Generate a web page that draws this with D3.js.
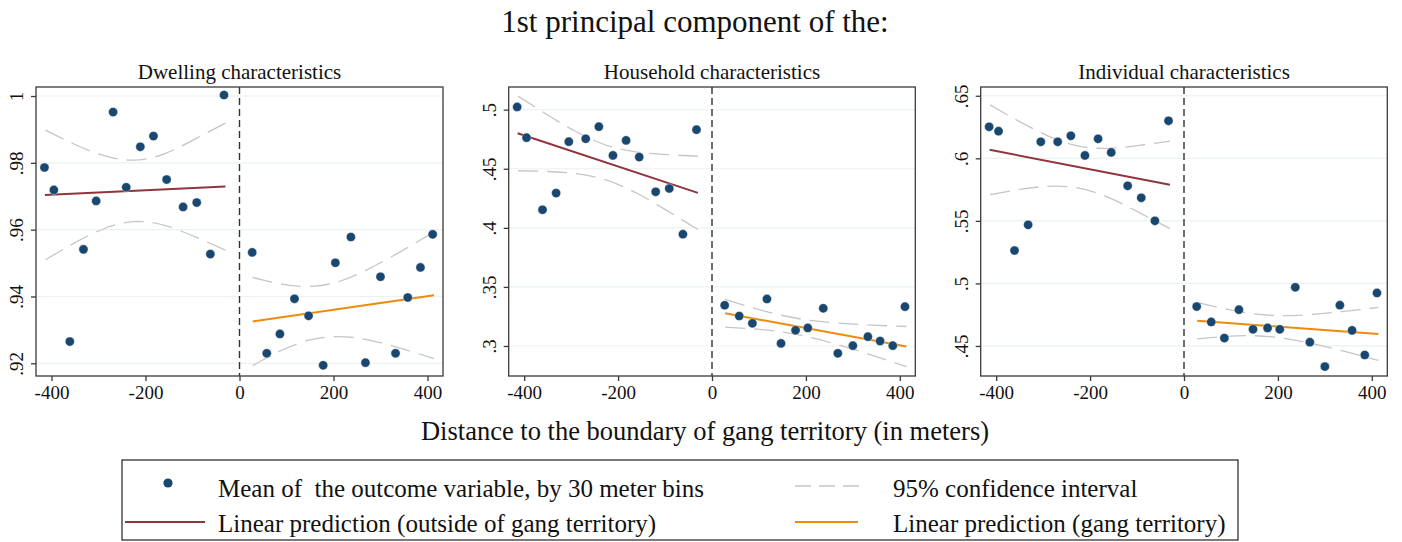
<!DOCTYPE html>
<html><head><meta charset="utf-8">
<script src="https://cdn.jsdelivr.net/npm/d3@7"></script>
<style>
body{margin:0;background:#fff}
svg text{font-family:"Liberation Serif","DejaVu Serif",serif;fill:#111;white-space:pre}
</style>
</head><body><svg id="c" width="1402" height="542"></svg>
<script>
// ---------------- data ----------------
const mainTitle = "1st principal component of the:";
const xAxisTitle = "Distance to the boundary of gang territory (in meters)";
const panelTitles = ["Dwelling characteristics", "Household characteristics", "Individual characteristics"];

// bin centres (mean distance in each 30 m bin)
const binX = [-415, -395, -361, -332, -305, -269, -241, -211, -183, -155, -120, -91, -62, -33,
              27, 58, 86, 117, 147, 178, 204, 237, 268, 300, 332, 358, 385, 411];

const dwellingY = [.9786, .9719, .9265, .9541, .9686, .9952, .9727, .9848, .9880, .9750, .9668, .9681, .9527, 1.0003,
                   .9532, .9230, .9288, .9393, .9342, .9194, .9501, .9578, .9202, .9459, .9230, .9397, .9487, .9586];
const householdY = [.5023, .4763, .4153, .4294, .4729, .4754, .4856, .4613, .4740, .4599, .4305, .4333, .3946, .4831,
                    .3345, .3254, .3192, .3398, .3022, .3133, .3153, .3319, .2938, .3003, .3079, .3042, .3003, .3333];
const individualY = [.6252, .6217, .5263, .5468, .6132, .6132, .6180, .6023, .6156, .6047, .5780, .5684, .5500, .6300,
                     .4815, .4692, .4563, .4790, .4633, .4644, .4633, .4969, .4530, .4335, .4826, .4624, .4428, .4924];

// linear predictions (end points)
const fitOutX = [-414, -30];
const fitInX = [28, 414];
const dwellingFitOut = [.9704, .9729];
const dwellingFitIn = [.9325, .9404];
const householdFitOut = [.4800, .4296];
const householdFitIn = [.3277, .2995];
const individualFitOut = [.6068, .5788];
const individualFitIn = [.4702, .4596];

// 95% confidence interval bands
const ciOutX = [-413, -350, -290, -226, -160, -95, -30];
const ciInX = [28, 90, 150, 210, 270, 340, 414];
const dwellingCiOutUp = [.9898, .9855, .9822, .9808, .9827, .9871, .9919];
const dwellingCiOutLo = [.9510, .9561, .9602, .9624, .9613, .9579, .9539];
const dwellingCiInUp = [.9457, .9437, .9430, .9444, .9479, .9532, .9594];
const dwellingCiInLo = [.9193, .9239, .9270, .9280, .9271, .9246, .9214];
const householdCiOutUp = [.5115, .4955, .4815, .4701, .4641, .4619, .4606];
const householdCiOutLo = [.4483, .4477, .4459, .4405, .4293, .4144, .3986];
const householdCiInUp = [.3394, .3320, .3258, .3216, .3193, .3177, .3165];
const householdCiInLo = [.3160, .3144, .3118, .3072, .3009, .2923, .2825];
const individualCiOutUp = [.6427, .6293, .6180, .6099, .6080, .6104, .6138];
const individualCiOutLo = [.5710, .5751, .5776, .5763, .5686, .5566, .5438];
const individualCiInUp = [.4848, .4794, .4756, .4742, .4751, .4776, .4808];
const individualCiInLo = [.4556, .4576, .4582, .4562, .4521, .4459, .4384];

// axes
const xDomain = [-433, 433];
const xTicks = [-400, -200, 0, 200, 400];
const dwellingDomain = [.9162, 1.0027];
const householdDomain = [.2746, .5192];
const individualDomain = [.426, .657];
const dwellingTicks = [.92, .94, .96, .98, 1];
const dwellingTickLabels = [".92", ".94", ".96", ".98", "1"];
const householdTicks = [.3, .35, .4, .45, .5];
const householdTickLabels = [".3", ".35", ".4", ".45", ".5"];
const individualTicks = [.45, .5, .55, .6, .65];
const individualTickLabels = [".45", ".5", ".55", ".6", ".65"];

const legendLabels = ["Mean of  the outcome variable, by 30 meter bins", "95% confidence interval",
                      "Linear prediction (outside of gang territory)", "Linear prediction (gang territory)"];

// ---------------- styles / layout ----------------
const C = {dot: "#1a476f", out: "#90353b", gang: "#ef8a0c", ci: "#c6c6c6", grid: "#eaf2f3", frame: "#3a3a3a"};
const frames = [
  {l: 36, r: 443, t: 87, b: 376},
  {l: 508.7, r: 915.3, t: 87, b: 376},
  {l: 980.7, r: 1387.3, t: 87, b: 376}
];
const panelY = [dwellingY, householdY, individualY];
const panelFitOut = [dwellingFitOut, householdFitOut, individualFitOut];
const panelFitIn = [dwellingFitIn, householdFitIn, individualFitIn];
const panelCi = [
  [dwellingCiOutUp, dwellingCiOutLo, dwellingCiInUp, dwellingCiInLo],
  [householdCiOutUp, householdCiOutLo, householdCiInUp, householdCiInLo],
  [individualCiOutUp, individualCiOutLo, individualCiInUp, individualCiInLo]
];
const panelDomain = [dwellingDomain, householdDomain, individualDomain];
const panelTicks = [dwellingTicks, householdTicks, individualTicks];
const panelTickLabels = [dwellingTickLabels, householdTickLabels, individualTickLabels];

const svg = d3.select("#c");
svg.append("rect").attr("width", 1402).attr("height", 542).attr("fill", "#fff");

svg.append("text").attr("x", 695).attr("y", 32).attr("text-anchor", "middle")
  .style("font-size", "31px").text(mainTitle);

frames.forEach((f, i) => {
  const x = d3.scaleLinear().domain(xDomain).range([f.l, f.r]);
  const y = d3.scaleLinear().domain(panelDomain[i]).range([f.b, f.t]);
  const g = svg.append("g");

  // title
  g.append("text").attr("x", (f.l + f.r) / 2).attr("y", 79).attr("text-anchor", "middle")
    .style("font-size", "21px").text(panelTitles[i]);

  // grid
  g.selectAll(".grid").data(panelTicks[i]).join("line")
    .attr("x1", f.l).attr("x2", f.r).attr("y1", d => y(d)).attr("y2", d => y(d))
    .attr("stroke", C.grid).attr("stroke-width", 1.2);

  // CI
  const line = d3.line().x(d => x(d[0])).y(d => y(d[1])).curve(d3.curveNatural);
  const ci = panelCi[i];
  [[ciOutX, ci[0]], [ciOutX, ci[1]], [ciInX, ci[2]], [ciInX, ci[3]]].forEach(([xs, ys]) => {
    g.append("path").attr("d", line(xs.map((v, k) => [v, ys[k]])))
      .attr("fill", "none").attr("stroke", C.ci).attr("stroke-width", 1.3)
      .attr("stroke-dasharray", "20,9");
  });

  // fits
  const lin = d3.line().x(d => x(d[0])).y(d => y(d[1]));
  g.append("path").attr("d", lin(fitOutX.map((v, k) => [v, panelFitOut[i][k]])))
    .attr("stroke", C.out).attr("stroke-width", 2).attr("fill", "none");
  g.append("path").attr("d", lin(fitInX.map((v, k) => [v, panelFitIn[i][k]])))
    .attr("stroke", C.gang).attr("stroke-width", 2).attr("fill", "none");

  // xline at 0
  g.append("line").attr("x1", x(0)).attr("x2", x(0)).attr("y1", f.t).attr("y2", f.b)
    .attr("stroke", "#333").attr("stroke-width", 1.4).attr("stroke-dasharray", "7,4");

  // dots
  g.selectAll(".dot").data(binX.map((v, k) => [v, panelY[i][k]])).join("circle")
    .attr("cx", d => x(d[0])).attr("cy", d => y(d[1])).attr("r", 4.6)
    .attr("fill", C.dot).attr("stroke", "#fff").attr("stroke-width", 0.4);

  // frame
  g.append("rect").attr("x", f.l).attr("y", f.t).attr("width", f.r - f.l).attr("height", f.b - f.t)
    .attr("fill", "none").attr("stroke", C.frame).attr("stroke-width", 1.3);

  // x axis
  const xa = g.append("g").attr("transform", `translate(0,${f.b})`)
    .call(d3.axisBottom(x).tickValues(xTicks).tickSize(5).tickPadding(5).tickFormat(d3.format("d")));
  xa.select(".domain").remove();
  xa.selectAll("line").attr("stroke", C.frame).attr("stroke-width", 1.3);
  xa.selectAll("text").style("font-size", "19px").attr("font-family", null).attr("fill", "#111")
    .text(d => d < 0 ? "-" + Math.abs(d) : d);

  // y axis
  const ya = g.append("g").attr("transform", `translate(${f.l},0)`)
    .call(d3.axisLeft(y).tickValues(panelTicks[i]).tickSize(5).tickFormat((d, k) => panelTickLabels[i][k]));
  ya.select(".domain").remove();
  ya.selectAll("line").attr("stroke", C.frame).attr("stroke-width", 1.3);
  ya.selectAll("text").style("font-size", "19px").attr("font-family", null).attr("fill", "#111")
    .attr("text-anchor", "middle").attr("dy", 0).attr("x", 0).attr("y", 0)
    .attr("transform", "translate(-13,0) rotate(-90)");
});

svg.append("text").attr("x", 705).attr("y", 440).attr("text-anchor", "middle")
  .style("font-size", "26.5px").text(xAxisTitle);

// legend
const lg = svg.append("g");
lg.append("rect").attr("x", 122).attr("y", 460).attr("width", 1116).attr("height", 80)
  .attr("fill", "#fff").attr("stroke", "#333").attr("stroke-width", 1.3);
lg.append("circle").attr("cx", 168).attr("cy", 483).attr("r", 4.6).attr("fill", C.dot);
lg.append("line").attr("x1", 125).attr("x2", 205).attr("y1", 522).attr("y2", 522)
  .attr("stroke", C.out).attr("stroke-width", 2);
lg.append("line").attr("x1", 795).attr("x2", 860).attr("y1", 486).attr("y2", 486)
  .attr("stroke", C.ci).attr("stroke-width", 1.3).attr("stroke-dasharray", "16,8");
lg.append("line").attr("x1", 795).attr("x2", 858).attr("y1", 522).attr("y2", 522)
  .attr("stroke", C.gang).attr("stroke-width", 2);
const lx = [218, 893, 218, 893], ly = [497, 497, 532, 532];
legendLabels.forEach((t, k) => lg.append("text").attr("x", lx[k]).attr("y", ly[k])
  .style("font-size", "25px").text(t));
</script></body></html>
